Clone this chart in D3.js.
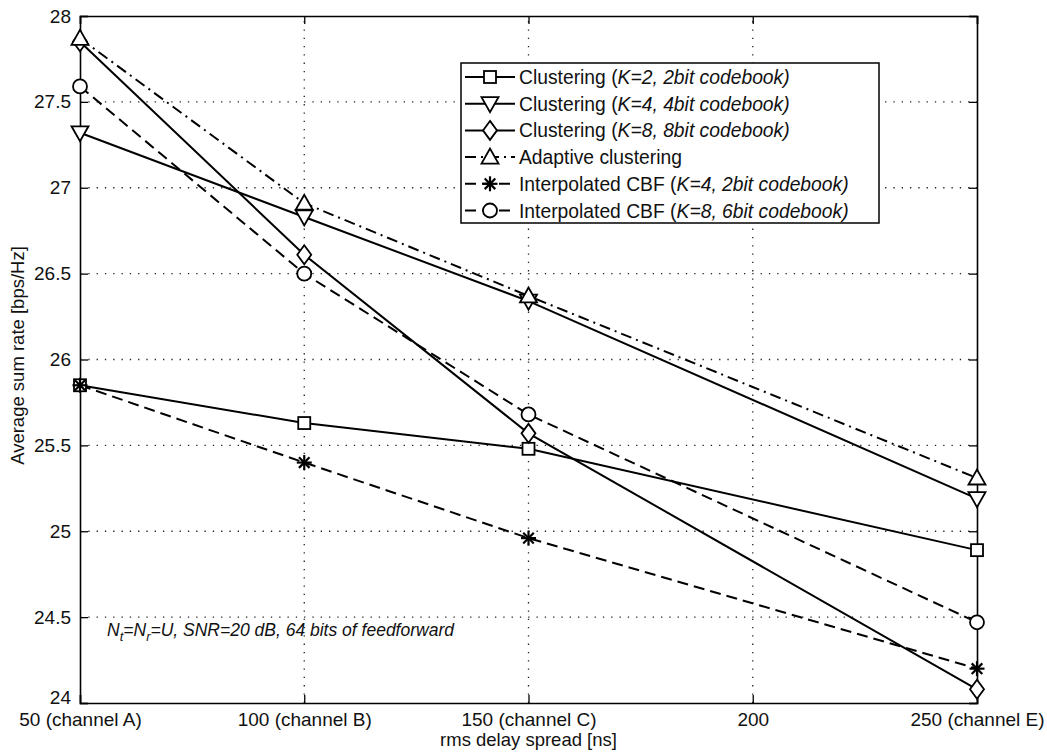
<!DOCTYPE html>
<html><head><meta charset="utf-8">
<script src="https://cdn.jsdelivr.net/npm/d3@7"></script>
<style>
body{margin:0;background:#fff}
text{font-family:"Liberation Sans",Arial,Helvetica,sans-serif;fill:#111}
</style>
</head><body>
<svg id="chart" width="1047" height="753"></svg>
<script>
// rms delay spread [ns] of the measured channels
const channelX = [50, 100, 150, 250];
const xTicks = [50, 100, 150, 200, 250];
const xTickLabels = ["50 (channel A)", "100 (channel B)", "150 (channel C)", "200", "250 (channel E)"];
const yTicks = [24, 24.5, 25, 25.5, 26, 26.5, 27, 27.5, 28];
const yTickLabels = ["24", "24.5", "25", "25.5", "26", "26.5", "27", "27.5", "28"];

// average sum rate [bps/Hz]
const clusterK2 = [25.85, 25.63, 25.48, 24.89];
const clusterK4 = [27.32, 26.83, 26.34, 25.19];
const clusterK8 = [27.85, 26.61, 25.57, 24.08];
const adaptive  = [27.87, 26.91, 26.37, 25.31];
const interpK4  = [25.85, 25.40, 24.96, 24.20];
const interpK8  = [27.59, 26.50, 25.68, 24.47];

const seriesNames = [
  ["Clustering (", "K=2, 2bit codebook)"],
  ["Clustering (", "K=4, 4bit codebook)"],
  ["Clustering (", "K=8, 8bit codebook)"],
  ["Adaptive clustering", ""],
  ["Interpolated CBF (", "K=4, 2bit codebook)"],
  ["Interpolated CBF (", "K=8, 6bit codebook)"]
];
const seriesValues = [clusterK2, clusterK4, clusterK8, adaptive, interpK4, interpK8];
const seriesMarkers = ["square", "triDown", "diamond", "triUp", "star", "circle"];
const seriesDash = [null, null, null, "11,5,2,5", "11,6", "11,6"];

const margin = {left: 80, top: 16, right: 70, bottom: 50};
const W = 1047, H = 753;
const svg = d3.select("#chart");
const x = d3.scaleLinear().domain([50, 250]).range([margin.left, W - margin.right]);
const y = d3.scaleLinear().domain([24, 28]).range([H - margin.bottom, margin.top]);

const x0 = x(50), x1 = x(250), y0 = y(24), y1 = y(28);

// dotted grid
const grid = svg.append("g").attr("stroke", "#222").attr("stroke-width", 1.3)
  .attr("stroke-dasharray", "1.3,7");
xTicks.slice(1, -1).forEach(v => grid.append("line")
  .attr("x1", x(v)).attr("x2", x(v)).attr("y1", y0).attr("y2", y1));
yTicks.slice(1, -1).forEach(v => grid.append("line")
  .attr("x1", x0).attr("x2", x1).attr("y1", y(v)).attr("y2", y(v)));

// axes with inward ticks on all four sides
const tickLen = 8;
const axL = svg.append("g").attr("transform", `translate(${x0},0)`)
  .call(d3.axisLeft(y).tickValues(yTicks).tickSize(-tickLen).tickPadding(tickLen + 1)
    .tickFormat((d, i) => yTickLabels[i]));
const axR = svg.append("g").attr("transform", `translate(${x1},0)`)
  .call(d3.axisRight(y).tickValues(yTicks).tickSize(-tickLen).tickFormat(""));
const axB = svg.append("g").attr("transform", `translate(0,${y0})`)
  .call(d3.axisBottom(x).tickValues(xTicks).tickSize(-tickLen).tickPadding(tickLen + 2)
    .tickFormat((d, i) => xTickLabels[i]));
const axT = svg.append("g").attr("transform", `translate(0,${y1})`)
  .call(d3.axisTop(x).tickValues(xTicks).tickSize(-tickLen).tickFormat(""));
[axL, axR, axB, axT].forEach(a => {
  a.selectAll(".domain").attr("stroke", "#000").attr("stroke-width", 1.6);
  a.selectAll(".tick line").attr("stroke", "#000").attr("stroke-width", 1.3);
  a.selectAll("text").attr("font-size", 19).attr("font-family", null).attr("fill", "#111");
});
// the lowest y label is pushed up against the corner
axL.selectAll(".tick text").filter(d => d === 24).attr("dy", "0.05em");

// axis titles
svg.append("text").attr("x", (x0 + x1) / 2).attr("y", 746)
  .attr("text-anchor", "middle").attr("font-size", 18.5).text("rms delay spread [ns]");
svg.append("text").attr("transform", `translate(24,${(y0 + y1) / 2 - 4}) rotate(-90)`)
  .attr("text-anchor", "middle").attr("font-size", 18.5).text("Average sum rate [bps/Hz]");

// marker drawing
function drawMarker(g, type, cx, cy) {
  const s = g.append("g").attr("transform", `translate(${cx},${cy})`)
    .attr("fill", "#fff").attr("stroke", "#000").attr("stroke-width", 1.8);
  if (type === "square") s.append("rect").attr("x", -6).attr("y", -6).attr("width", 12).attr("height", 12);
  if (type === "triDown") s.append("path").attr("d", "M-8.5,-6.5L8.5,-6.5L0,8.5Z");
  if (type === "triUp") s.append("path").attr("d", "M-8.5,6.5L8.5,6.5L0,-8.5Z");
  if (type === "diamond") s.append("path").attr("d", "M0,-9.5L7,0L0,9.5L-7,0Z");
  if (type === "circle") s.append("circle").attr("r", 7);
  if (type === "star") {
    s.attr("stroke-width", 2.2);
    [[-7.5, 0, 7.5, 0], [0, -7.5, 0, 7.5], [-5.3, -5.3, 5.3, 5.3], [-5.3, 5.3, 5.3, -5.3]].forEach(l =>
      s.append("line").attr("x1", l[0]).attr("y1", l[1]).attr("x2", l[2]).attr("y2", l[3]));
  }
}

// series lines and markers
const line = d3.line().x((d, i) => x(channelX[i])).y(d => y(d));
const plotG = svg.append("g");
seriesValues.forEach((vals, k) => {
  plotG.append("path").datum(vals).attr("d", line).attr("fill", "none")
    .attr("stroke", "#000").attr("stroke-width", 2)
    .attr("stroke-dasharray", seriesDash[k]);
});
seriesValues.forEach((vals, k) => {
  vals.forEach((v, i) => drawMarker(plotG, seriesMarkers[k], x(channelX[i]), y(v)));
});

// legend
const lg = svg.append("g");
const lx0 = 461, ly0 = 63, lw = 418, lh = 160;
lg.append("rect").attr("x", lx0).attr("y", ly0).attr("width", lw).attr("height", lh)
  .attr("fill", "#fff").attr("stroke", "#000").attr("stroke-width", 1.5);
seriesNames.forEach((nm, k) => {
  const ry = 77 + k * 26.7;
  lg.append("line").attr("x1", lx0 + 4).attr("x2", lx0 + 54).attr("y1", ry).attr("y2", ry)
    .attr("stroke", "#000").attr("stroke-width", 2).attr("stroke-dasharray", seriesDash[k]);
  drawMarker(lg, seriesMarkers[k], lx0 + 29, ry);
  const t = lg.append("text").attr("x", lx0 + 58).attr("y", ry + 7).attr("font-size", 19.3);
  t.append("tspan").text(nm[0]);
  if (nm[1]) t.append("tspan").attr("font-style", "italic").text(nm[1]);
});

// simulation settings note
const note = svg.append("text").attr("x", 107).attr("y", 636).attr("font-size", 17.5)
  .attr("font-style", "italic");
note.append("tspan").text("N");
note.append("tspan").attr("dy", 5).attr("font-size", 13).text("t");
note.append("tspan").attr("dy", -5).text("=N");
note.append("tspan").attr("dy", 5).attr("font-size", 13).text("r");
note.append("tspan").attr("dy", -5).text("=U, SNR=20 dB, 64 bits of feedforward");
</script>
</body></html>
